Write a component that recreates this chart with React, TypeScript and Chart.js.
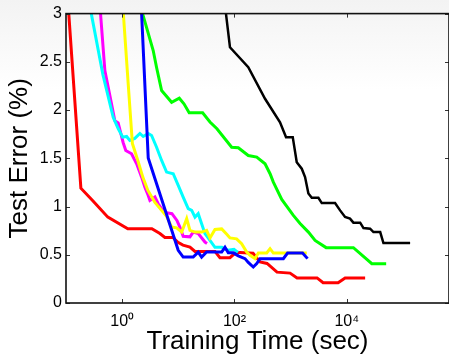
import React, { useEffect, useRef } from 'react';
import { Chart, registerables } from 'chart.js';

Chart.register(...registerables);

// ---- data ----
const redX = [0.112, 0.184, 0.30, 0.556, 1.26, 3.38, 4.7, 5.77, 8.0, 9.84, 12.1, 16.1, 19.8, 44.9, 55.1, 83.1, 106, 214, 285, 380, 572, 976, 1300, 2955, 3785, 7000, 9330, 21200];
const redY = [3.0, 1.19, 1.06, 0.89, 0.77, 0.77, 0.72, 0.68, 0.68, 0.63, 0.60, 0.58, 0.535, 0.535, 0.47, 0.47, 0.525, 0.515, 0.425, 0.41, 0.32, 0.31, 0.26, 0.26, 0.21, 0.21, 0.26, 0.26];

const magentaX = [0.412, 0.492, 0.604, 0.741, 0.849, 1.04, 1.16, 1.47, 1.81, 2.22, 2.54, 2.91, 3.12, 3.83, 4.38, 5.04, 5.77, 7.69, 9.44, 10.7, 12.2, 16.1, 18.4, 22.6, 29.8, 32.4];
const magentaY = [3.0, 2.41, 2.15, 1.89, 1.866, 1.664, 1.581, 1.547, 1.443, 1.305, 1.201, 1.115, 1.063, 1.098, 1.029, 0.978, 0.939, 0.926, 0.856, 0.784, 0.691, 0.686, 0.735, 0.719, 0.632, 0.618];

const cyanX = [0.282, 0.453, 0.692, 0.849, 1.02, 1.20, 1.37, 1.68, 2.07, 2.37, 2.91, 3.34, 4.10, 5.04, 6.18, 8.11, 9.96, 12.2, 15.0, 17.3, 19.8, 22.6, 26.0, 29.8, 36.6, 44.9, 59.8, 76.6, 98, 115];
const cyanY = [3.0, 2.37, 1.926, 1.809, 1.719, 1.726, 1.685, 1.706, 1.757, 1.726, 1.757, 1.737, 1.615, 1.478, 1.357, 1.340, 1.219, 1.098, 0.978, 0.960, 0.891, 0.926, 0.822, 0.719, 0.649, 0.577, 0.577, 0.546, 0.556, 0.525];

const yellowX = [1.05, 1.28, 1.52, 1.90, 2.34, 2.87, 3.83, 5.04, 6.18, 7.60, 9.33, 11.5, 14.1, 16.1, 19.8, 26.0, 31.9, 36.6, 44.9, 59.1, 73.5, 83.1, 109, 134, 165, 189, 232, 266, 375, 430, 492, 1936];
const yellowY = [3.0, 2.275, 1.654, 1.478, 1.302, 1.167, 1.043, 0.960, 0.898, 0.787, 0.779, 0.735, 0.874, 0.753, 0.735, 0.735, 0.753, 0.675, 0.763, 0.768, 0.711, 0.675, 0.665, 0.615, 0.528, 0.494, 0.460, 0.518, 0.518, 0.563, 0.518, 0.518];

const blueX = [2.22, 2.91, 9.96, 12.2, 18.4, 22.6, 26.0, 31.9, 59.1, 67.7, 77.5, 95.2, 117, 154, 176, 216, 249, 285, 741, 881, 1630, 2000];
const blueY = [3.0, 1.504, 0.546, 0.476, 0.476, 0.528, 0.476, 0.528, 0.528, 0.577, 0.520, 0.520, 0.489, 0.460, 0.421, 0.373, 0.408, 0.460, 0.460, 0.518, 0.518, 0.460];

const greenX = [2.31, 3.57, 4.10, 5.04, 7.60, 10.4, 12.6, 15.6, 27.1, 36.6, 48.7, 89.1, 117, 176, 249, 350, 430, 492, 694, 1117, 1471, 2070, 2723, 4277, 13100, 27900, 50200];
const greenY = [3.0, 2.617, 2.441, 2.203, 2.081, 2.123, 2.065, 1.972, 1.972, 1.876, 1.806, 1.615, 1.609, 1.529, 1.512, 1.443, 1.340, 1.253, 1.074, 0.908, 0.825, 0.735, 0.649, 0.574, 0.574, 0.408, 0.408];

const blackX = [70.5, 83.1, 176, 350, 647, 828, 1090, 1284, 1577, 1806, 2070, 2377, 3118, 3583, 6180, 7590, 9310, 11400, 13100, 17300, 19800, 26000, 29800, 39300, 44900, 134000];
const blackY = [3.0, 2.651, 2.444, 2.117, 1.874, 1.719, 1.719, 1.460, 1.392, 1.305, 1.136, 1.091, 1.091, 1.036, 1.036, 0.960, 0.891, 0.874, 0.833, 0.833, 0.777, 0.770, 0.735, 0.735, 0.621, 0.621];

const xTickValues = [1, 100, 10000];
const xTickLabels = ['10\u2070', '10\u00B2', '10\u2074'];
const yTickValues = [0, 0.5, 1, 1.5, 2, 2.5, 3];
const yTickLabels = ['0', '0.5', '1', '1.5', '2', '2.5', '3'];

const xTitle = 'Training Time (sec)';
const yTitle = 'Test Error (%)';

const FONT = "'Liberation Sans', Arial, Helvetica, sans-serif";

type Series = { name: string; xs: number[]; ys: number[]; color: string; width: number; order: number };

const series: Series[] = [
  { name: 'black', xs: blackX, ys: blackY, color: '#000000', width: 2.5, order: 7 },
  { name: 'green', xs: greenX, ys: greenY, color: '#00ff00', width: 3, order: 6 },
  { name: 'red', xs: redX, ys: redY, color: '#ff0000', width: 3, order: 5 },
  { name: 'magenta', xs: magentaX, ys: magentaY, color: '#ff00ff', width: 3, order: 4 },
  { name: 'cyan', xs: cyanX, ys: cyanY, color: '#00ffff', width: 3, order: 3 },
  { name: 'yellow', xs: yellowX, ys: yellowY, color: '#ffff00', width: 3, order: 2 },
  { name: 'blue', xs: blueX, ys: blueY, color: '#0000ff', width: 3, order: 1 },
];

const boxPlugin = {
  id: 'matlabBox',
  afterDatasetsDraw(chart: any) {
    const { ctx, chartArea: a, scales } = chart;
    ctx.save();
    ctx.strokeStyle = '#333333';
    ctx.lineWidth = 1;
    const tl = 4;
    ctx.beginPath();
    for (const v of xTickValues) {
      const px = Math.round(scales.x.getPixelForValue(v)) + 0.5;
      ctx.moveTo(px, a.bottom);
      ctx.lineTo(px, a.bottom - tl);
      ctx.moveTo(px, a.top);
      ctx.lineTo(px, a.top + tl);
    }
    for (const v of yTickValues) {
      const py = Math.round(scales.y.getPixelForValue(v)) + 0.5;
      ctx.moveTo(a.left, py);
      ctx.lineTo(a.left + tl, py);
      ctx.moveTo(a.right, py);
      ctx.lineTo(a.right - tl, py);
    }
    ctx.stroke();
    ctx.strokeStyle = '#111111';
    ctx.lineWidth = 1.6;
    ctx.strokeRect(a.left, a.top, a.right - a.left, a.bottom - a.top);
    ctx.restore();
  },
};

export default function App() {
  const ref = useRef<HTMLCanvasElement | null>(null);

  useEffect(() => {
    if (!ref.current) return;
    const chart = new Chart(ref.current, {
      type: 'line',
      data: {
        datasets: series.map((s) => ({
          label: s.name,
          data: s.xs.map((x, i) => ({ x, y: s.ys[i] })),
          borderColor: s.color,
          backgroundColor: s.color,
          borderWidth: s.width,
          pointRadius: 0,
          tension: 0,
          fill: false,
          order: s.order,
          borderJoinStyle: 'miter' as const,
          clip: 0,
        })),
      },
      options: {
        animation: false,
        responsive: false,
        devicePixelRatio: 1,
        layout: { padding: { top: 13, right: 0, left: 0, bottom: 0 } },
        plugins: { legend: { display: false }, tooltip: { enabled: false } },
        scales: {
          x: {
            type: 'logarithmic',
            min: 0.1,
            max: 660000,
            position: 'bottom',
            grid: { display: false, drawTicks: false },
            border: { display: false },
            afterBuildTicks: (axis: any) => {
              axis.ticks = xTickValues.map((v) => ({ value: v }));
            },
            afterFit: (axis: any) => {
              axis.height = 53;
            },
            ticks: {
              autoSkip: false,
              maxRotation: 0,
              padding: 9,
              color: '#000',
              font: { family: FONT, size: 16 },
              callback: (v: any) => {
                const i = xTickValues.indexOf(Number(v));
                return i >= 0 ? xTickLabels[i] : '';
              },
            },
            title: {
              display: true,
              text: xTitle,
              color: '#000',
              font: { family: FONT, size: 26, lineHeight: 1 },
              padding: { top: 0, bottom: 1 },
            },
          },
          y: {
            type: 'linear',
            min: 0,
            max: 3,
            position: 'left',
            grid: { display: false, drawTicks: false },
            border: { display: false },
            afterBuildTicks: (axis: any) => {
              axis.ticks = yTickValues.map((v) => ({ value: v }));
            },
            afterFit: (axis: any) => {
              axis.width = 66;
            },
            ticks: {
              padding: 4,
              color: '#000',
              font: { family: FONT, size: 16 },
              callback: (v: any) => {
                const i = yTickValues.indexOf(Number(v));
                return i >= 0 ? yTickLabels[i] : '';
              },
            },
            title: {
              display: true,
              text: yTitle,
              color: '#000',
              font: { family: FONT, size: 26, lineHeight: 1 },
              padding: { top: 7, bottom: 0 },
            },
          },
        },
      },
      plugins: [boxPlugin],
    } as any);
    return () => chart.destroy();
  }, []);

  return (
    <div
      style={{
        position: 'fixed',
        left: 0,
        top: 0,
        width: 449,
        height: 356,
        background: 'linear-gradient(#f3f3f3 0px, #ffffff 90px)',
      }}
    >
      <canvas ref={ref} width={449} height={356} style={{ display: 'block', width: 449, height: 356 }} />
    </div>
  );
}
